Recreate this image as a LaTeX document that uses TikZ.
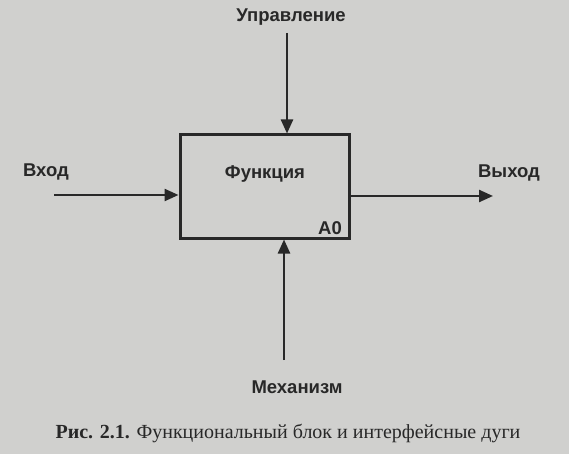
\documentclass[tikz,border=0pt]{standalone}
\usepackage{fontspec}
\setmainfont{Liberation Serif}
\newfontfamily\labfont{Liberation Sans}
\usetikzlibrary{arrows.meta}
\definecolor{paper}{RGB}{208,208,206}
\definecolor{ink}{RGB}{40,40,40}
\tikzset{
  lbl/.style={font=\labfont\bfseries\fontsize{18.5}{20}\selectfont, text=ink, inner sep=0pt},
  arr/.style={draw=ink, line width=2.4pt, -{Triangle[length=14pt,width=12pt]}},
  fbox/.style={draw=ink, line width=3pt, minimum width=169pt, minimum height=103pt, inner sep=0pt}
}
\begin{document}
\begin{tikzpicture}[x=1pt,y=-1pt]
\fill[paper] (0,0) rectangle (569,454);
\useasboundingbox (0,0) rectangle (569,454);
\node[fbox] (f) at (264.5,186.5) {};
\node[lbl] (fn) at (265,174) {Функция};
\node[lbl] (a0) at (330,228) {A0};
\node[lbl] (ctl) at (291,17) {Управление};
\node[lbl] (inp) at (46,172) {Вход};
\node[lbl] (out) at (509,173) {Выход};
\node[lbl] (mech) at (297,387) {Механизм};
\coordinate (cs) at (287,33);
\coordinate (ms) at (284,360);
\coordinate (is) at (54,195);
\coordinate (oe) at (493,196);
\draw[arr] (cs) -- (cs |- f.north);
\draw[arr] (ms) -- (ms |- f.south);
\draw[arr] (is) -- (is -| f.west);
\draw[arr] (oe -| f.east) -- (oe);
\node[text=ink, inner sep=0pt, font=\fontsize{20}{23}\selectfont] (cap) at (288,433) {\textbf{Рис. 2.1.} Функциональный блок и интерфейсные дуги};
\end{tikzpicture}
\end{document}
